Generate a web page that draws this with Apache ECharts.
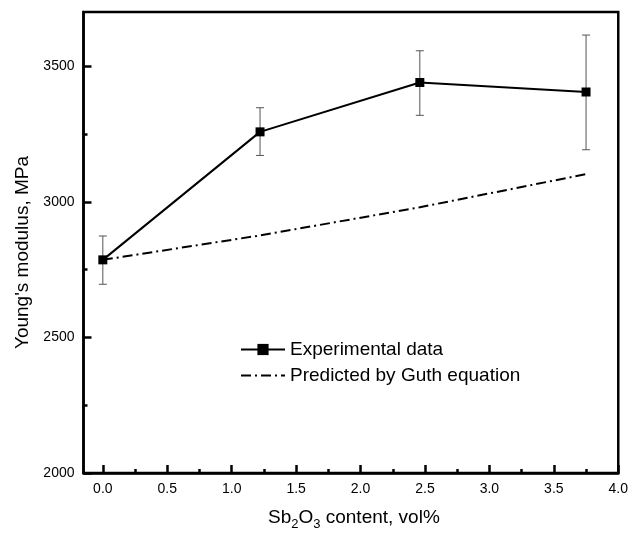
<!DOCTYPE html>
<html>
<head>
<meta charset="utf-8">
<script src="https://cdn.jsdelivr.net/npm/echarts@6/dist/echarts.min.js"></script>
<style>
html, body { margin: 0; padding: 0; background: #fff; }
#chart { width: 631px; height: 536px; }
</style>
</head>
<body>
<div id="chart"></div>
<script>
//含量 vol%
var xValues = [0, 1.22, 2.46, 3.75];
//实验值
var experimental = [2786, 3258, 3440, 3405];
//误差棒上下限
var errLow = [2696, 3171, 3319, 3192];
var errHigh = [2874, 3347, 3557, 3615];
//Guth方程预测值
var predicted = [2786, 2876, 2980, 3102];

//坐标刻度
var xMajorTicks = [0, 0.5, 1.0, 1.5, 2.0, 2.5, 3.0, 3.5, 4.0];
var xMinorTicks = [0.25, 0.75, 1.25, 1.75, 2.25, 2.75, 3.25, 3.75];
var yMajorTicks = [2000, 2500, 3000, 3500];
var yMinorTicks = [2250, 2750, 3250];

var font = 'Liberation Sans, Arial, sans-serif';

var expData = [], predData = [], errData = [];
for(var i = 0; i < xValues.length; i++) {
	expData.push([xValues[i], experimental[i]]);
	predData.push([xValues[i], predicted[i]]);
	errData.push([xValues[i], errLow[i], errHigh[i]]);
}

var renderErrorBar = function(params, api) {
	var x = api.value(0);
	var lo = api.coord([x, api.value(1)]);
	var hi = api.coord([x, api.value(2)]);
	var cap = 4;
	var style = { stroke: '#555', lineWidth: 1 };
	return {
		type: 'group',
		children: [{
			type: 'line',
			shape: { x1: hi[0], y1: hi[1], x2: lo[0], y2: lo[1] },
			style: style
		}, {
			type: 'line',
			shape: { x1: hi[0] - cap, y1: hi[1], x2: hi[0] + cap, y2: hi[1] },
			style: style
		}, {
			type: 'line',
			shape: { x1: lo[0] - cap, y1: lo[1], x2: lo[0] + cap, y2: lo[1] },
			style: style
		}]
	};
};

var chart = echarts.init(document.getElementById('chart'));
chart.setOption({
	animation: false,
	backgroundColor: '#fff',
	grid: {
		left: 83.5,
		right: 10.5,
		top: 12,
		bottom: 60.5,
		show: true,
		borderColor: '#000',
		borderWidth: 2.5
	},
	legend: {
		orient: 'vertical',
		left: 240,
		top: 340,
		padding: 0,
		itemWidth: 44,
		itemHeight: 14,
		itemGap: 7,
		textStyle: { fontFamily: font, fontSize: 19, color: '#000' },
		data: ['Experimental data', {
			name: 'Predicted by Guth equation',
			itemStyle: { opacity: 0 }
		}]
	},
	xAxis: [{
		type: 'value',
		min: -0.15,
		max: 4.0,
		position: 'bottom',
		name: '{a|Sb}{s|2}{a|O}{s|3}{a| content, vol%}',
		nameLocation: 'middle',
		nameGap: 32,
		nameTextStyle: {
			padding: [0, 0, 0, 6],
			rich: {
				a: { fontFamily: font, fontSize: 19, color: '#000' },
				s: { fontFamily: font, fontSize: 13, color: '#000', padding: [13, 0, 0, 0] }
			}
		},
		axisLine: { onZero: false, lineStyle: { color: '#000', width: 2.5 } },
		axisTick: { inside: true, length: 8, customValues: xMajorTicks, lineStyle: { color: '#000', width: 2.5 } },
		axisLabel: {
			customValues: xMajorTicks,
			margin: 9,
			fontFamily: font,
			fontSize: 14,
			color: '#000',
			formatter: function(v) { return v.toFixed(1); }
		},
		splitLine: { show: false }
	}, {
		type: 'value',
		min: -0.15,
		max: 4.0,
		position: 'bottom',
		axisLine: { show: false, onZero: false },
		axisTick: { inside: true, length: 4, customValues: xMinorTicks, lineStyle: { color: '#000', width: 2.5 } },
		axisLabel: { show: false },
		splitLine: { show: false }
	}],
	yAxis: [{
		type: 'value',
		min: 2000,
		max: 3700,
		position: 'left',
		name: "Young's modulus, MPa",
		nameLocation: 'middle',
		nameGap: 49,
		nameTextStyle: { fontFamily: font, fontSize: 19, color: '#000', padding: [0, 20, 0, 0] },
		axisLine: { onZero: false, lineStyle: { color: '#000', width: 2.5 } },
		axisTick: { inside: true, length: 8, customValues: yMajorTicks, lineStyle: { color: '#000', width: 2.5 } },
		axisLabel: {
			customValues: yMajorTicks,
			margin: 9,
			fontFamily: font,
			fontSize: 14,
			color: '#000',
			formatter: function(v) { return String(v); }
		},
		splitLine: { show: false }
	}, {
		type: 'value',
		min: 2000,
		max: 3700,
		position: 'left',
		axisLine: { show: false, onZero: false },
		axisTick: { inside: true, length: 4, customValues: yMinorTicks, lineStyle: { color: '#000', width: 2.5 } },
		axisLabel: { show: false },
		splitLine: { show: false }
	}],
	series: [{
		name: 'Error',
		type: 'custom',
		xAxisIndex: 0,
		yAxisIndex: 0,
		renderItem: renderErrorBar,
		encode: { x: 0, y: [1, 2] },
		data: errData,
		z: 1
	}, {
		name: 'Predicted by Guth equation',
		type: 'line',
		xAxisIndex: 0,
		yAxisIndex: 0,
		data: predData,
		symbol: 'none',
		color: '#000',
		lineStyle: { color: '#000', width: 2, type: [10, 4, 2, 4] },
		z: 2
	}, {
		name: 'Experimental data',
		type: 'line',
		xAxisIndex: 0,
		yAxisIndex: 0,
		data: expData,
		symbol: 'rect',
		symbolSize: 9,
		color: '#000',
		itemStyle: { color: '#000' },
		lineStyle: { color: '#000', width: 2 },
		z: 3
	}]
});
</script>
</body>
</html>
